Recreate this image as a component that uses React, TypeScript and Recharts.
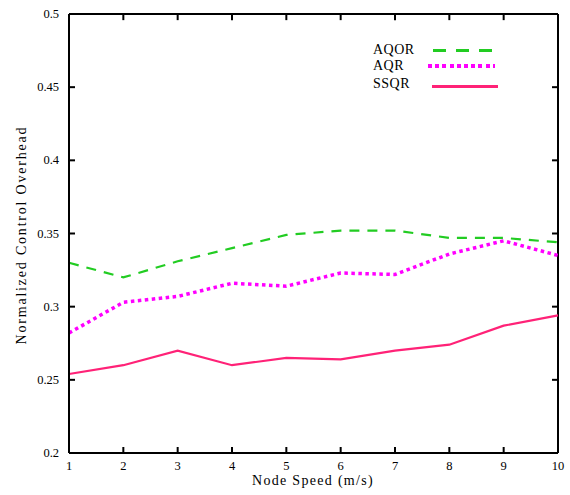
import React from "react";
import { LineChart, Line, XAxis, YAxis, ReferenceLine } from "recharts";

const speeds = [1, 2, 3, 4, 5, 6, 7, 8, 9, 10];
const aqor = [0.33, 0.32, 0.331, 0.34, 0.349, 0.352, 0.352, 0.347, 0.347, 0.344];
const aqr = [0.282, 0.303, 0.307, 0.316, 0.314, 0.323, 0.322, 0.336, 0.345, 0.335];
const ssqr = [0.254, 0.26, 0.27, 0.26, 0.265, 0.264, 0.27, 0.274, 0.287, 0.294];
const yTicks = [0.2, 0.25, 0.3, 0.35, 0.4, 0.45, 0.5];
const yTickLabels = ["0.2", "0.25", "0.3", "0.35", "0.4", "0.45", "0.5"];

const seriesNames = ["AQOR", "AQR", "SSQR"];
const colors = ["#22cc22", "#ff00ff", "#ff2277"];
const dashes = ["10 8", "3.5 3.5", undefined];
const widths = [2.2, 3.5, 2.2];

const data = speeds.map((s, i) => ({ speed: s, AQOR: aqor[i], AQR: aqr[i], SSQR: ssqr[i] }));

const font = "Liberation Serif, Times New Roman, serif";
const X0 = 1, X1 = 10, Y0 = 0.2, Y1 = 0.5;
const TX = 0.11; // tick length in x units (~6px)
const TY = 0.0042; // tick length in y units (~6px)

const legendRows = [
  { top: 42, lineLeft: 433, lineW: 60, h: 3, bg: "repeating-linear-gradient(to right, #22cc22 0 13px, transparent 13px 23px)" },
  { top: 58, lineLeft: 428, lineW: 67, h: 4, bg: "repeating-linear-gradient(to right, #ff00ff 0 4px, transparent 4px 7.2px)" },
  { top: 76, lineLeft: 432, lineW: 66, h: 3, bg: "#ff2277" },
];

const LegendHtml = () => (
  <>
    {seriesNames.map((n, i) => (
      <React.Fragment key={n}>
        <div style={{ position: "absolute", left: 373, top: legendRows[i].top, height: 16, lineHeight: "16px", fontFamily: font, fontSize: 14, color: "#000", letterSpacing: 0.5 }}>
          {n}
        </div>
        <div style={{ position: "absolute", left: legendRows[i].lineLeft, top: legendRows[i].top + 8 - legendRows[i].h / 2 + (i === 2 ? 2 : 0), width: legendRows[i].lineW, height: legendRows[i].h, background: legendRows[i].bg }} />
      </React.Fragment>
    ))}
  </>
);

const yFmt = (v: number) => yTickLabels[yTicks.findIndex((t) => Math.abs(t - v) < 1e-9)] ?? "";

// bottom axis: tickSize 0, tickMargin 6 -> axis line sits 6px above p.y
const renderXTick = (p: any) => (
  <g key={`xt-${p.index}`}>
    <line x1={p.x} x2={p.x} y1={p.y - 6} y2={p.y - 12} stroke="#000" strokeWidth={2} />
    <text x={p.x} y={p.y} dy={11} textAnchor="middle" fontFamily={font} fontSize={12.5} fill="#000">
      {p.payload.value}
    </text>
  </g>
);
// left axis: tickSize 0, tickMargin 10 -> axis line sits 10px right of p.x
const renderYTick = (p: any) => (
  <g key={`yt-${p.index}`}>
    <line x1={p.x + 10} x2={p.x + 16} y1={p.y} y2={p.y} stroke="#000" strokeWidth={2} />
    <text x={p.x} y={p.y} dy={4} textAnchor="end" fontFamily={font} fontSize={12.5} fill="#000">
      {yFmt(p.payload.value)}
    </text>
  </g>
);

const innerX = speeds.slice(1, -1);
const innerY = yTicks.slice(1, -1);

export default function App() {
  return (
    <div style={{ position: "absolute", left: 0, top: 0, width: 570, height: 495, background: "#fff" }}>
      <LineChart width={570} height={495} data={data} margin={{ top: 14, right: 12, bottom: 12, left: 29 }}>
        <XAxis
          dataKey="speed"
          type="number"
          domain={[X0, X1]}
          ticks={speeds}
          height={30}
          stroke="#000"
          strokeWidth={2}
          tickLine={false}
          tickSize={0}
          tickMargin={6}
          tick={renderXTick}
        />
        <YAxis
          type="number"
          domain={[Y0, Y1]}
          ticks={yTicks}
          width={40}
          stroke="#000"
          strokeWidth={2}
          tickLine={false}
          tickSize={0}
          tickMargin={10}
          tick={renderYTick}
        />
        <ReferenceLine y={Y1} stroke="#000" strokeWidth={2} />
        <ReferenceLine x={X1} stroke="#000" strokeWidth={2} />
        {innerX.map((v) => (
          <ReferenceLine key={`tx${v}`} segment={[{ x: v, y: Y1 }, { x: v, y: Y1 - TY }]} stroke="#000" strokeWidth={2} />
        ))}
        {innerY.map((v) => (
          <ReferenceLine key={`ry${v}`} segment={[{ x: X1, y: v }, { x: X1 - TX, y: v }]} stroke="#000" strokeWidth={2} />
        ))}
        {seriesNames.map((n, i) => (
          <Line
            key={n}
            type="linear"
            dataKey={n}
            stroke={colors[i]}
            strokeWidth={widths[i]}
            strokeDasharray={dashes[i]}
            dot={false}
            activeDot={false}
            isAnimationActive={false}
          />
        ))}
      </LineChart>
      <div style={{ position: "absolute", left: 213, top: 473, width: 200, textAlign: "center", lineHeight: "16px", fontFamily: font, fontSize: 14, letterSpacing: 1.3, color: "#000" }}>
        Node Speed (m/s)
      </div>
      <div style={{ position: "absolute", left: -108, top: 227, width: 260, height: 16, textAlign: "center", lineHeight: "16px", fontFamily: font, fontSize: 14, letterSpacing: 1.8, color: "#000", transform: "rotate(-90deg)" }}>
        Normalized Control Overhead
      </div>
      <LegendHtml />
    </div>
  );
}
